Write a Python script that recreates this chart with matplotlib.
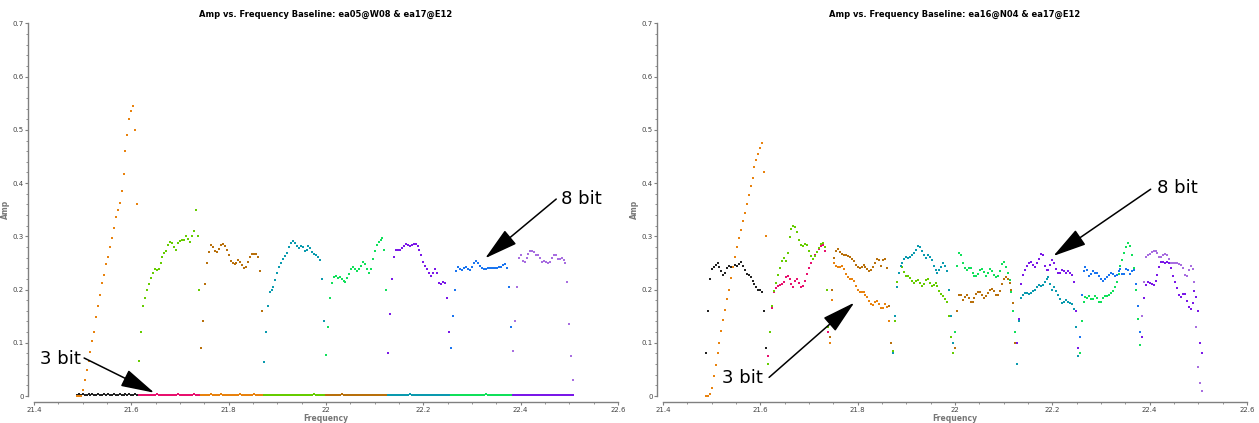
import numpy as np
import matplotlib
matplotlib.use('Agg')
import matplotlib.pyplot as plt
from matplotlib.ticker import MultipleLocator, FuncFormatter

# window start frequencies (GHz); 32 plotted channels per window, 4 MHz apart
spw_start = [21.486, 21.614, 21.742, 21.870, 21.998, 22.126, 22.254, 22.382]
chan_step = 0.004

colors_8bit = ['#e8820e', '#66cc00', '#b8700c', '#0a9aae', '#10e05a', '#7a18e8', '#1a75f0', '#a86ee0']
colors_3bit = ['#222222', '#e8106e', '#e8820e', '#66cc00', '#b8700c', '#0a9aae', '#10e05a', '#7a18e8']

# ---- baseline ea05@W08 & ea17@E12 ----
w08_8bit_0 = [0.0, 0.0, 0.0, 0.012, 0.03, 0.048, 0.065, 0.083, 0.104, 0.12, 0.148, 0.17, 0.19, 0.212, 0.228, 0.248,
              0.262, 0.28, 0.297, 0.316, 0.336, 0.35, 0.362, 0.385, 0.418, 0.46, 0.49, 0.52, 0.536, 0.544, 0.5, 0.36]
w08_8bit_1 = [0.065, 0.12, 0.17, 0.185, 0.2, 0.21, 0.222, 0.232, 0.238, 0.236, 0.238, 0.25, 0.261, 0.268, 0.273, 0.283,
              0.29, 0.288, 0.28, 0.274, 0.287, 0.292, 0.293, 0.294, 0.3, 0.295, 0.29, 0.3, 0.31, 0.35, 0.3, 0.2]
w08_8bit_2 = [0.09, 0.14, 0.21, 0.25, 0.27, 0.283, 0.28, 0.273, 0.27, 0.276, 0.283, 0.285, 0.282, 0.274, 0.264, 0.254,
              0.25, 0.248, 0.25, 0.256, 0.252, 0.246, 0.241, 0.243, 0.252, 0.262, 0.266, 0.266, 0.266, 0.262, 0.235, 0.16]
w08_8bit_3 = [0.063, 0.12, 0.17, 0.196, 0.2, 0.205, 0.218, 0.231, 0.242, 0.25, 0.257, 0.263, 0.269, 0.279, 0.288, 0.292,
              0.287, 0.281, 0.278, 0.281, 0.279, 0.272, 0.275, 0.281, 0.278, 0.27, 0.266, 0.264, 0.262, 0.256, 0.22, 0.14]
w08_8bit_4 = [0.077, 0.13, 0.185, 0.212, 0.224, 0.226, 0.222, 0.224, 0.22, 0.217, 0.215, 0.222, 0.229, 0.238, 0.243, 0.238,
              0.234, 0.238, 0.245, 0.251, 0.248, 0.238, 0.232, 0.238, 0.258, 0.272, 0.283, 0.289, 0.293, 0.296, 0.275, 0.2]
w08_8bit_5 = [0.08, 0.155, 0.22, 0.262, 0.275, 0.274, 0.275, 0.278, 0.281, 0.285, 0.283, 0.281, 0.283, 0.285, 0.285, 0.281,
              0.274, 0.264, 0.252, 0.245, 0.238, 0.231, 0.226, 0.231, 0.238, 0.232, 0.213, 0.21, 0.215, 0.213, 0.185, 0.12]
w08_8bit_6 = [0.09, 0.15, 0.2, 0.235, 0.243, 0.239, 0.236, 0.24, 0.243, 0.238, 0.237, 0.243, 0.25, 0.253, 0.25, 0.245,
              0.241, 0.239, 0.239, 0.24, 0.24, 0.241, 0.241, 0.241, 0.241, 0.242, 0.243, 0.246, 0.248, 0.24, 0.205, 0.13]
w08_8bit_7 = [0.085, 0.14, 0.205, 0.26, 0.265, 0.253, 0.252, 0.26, 0.266, 0.272, 0.273, 0.27, 0.264, 0.265, 0.259, 0.252,
              0.254, 0.251, 0.249, 0.252, 0.259, 0.264, 0.265, 0.258, 0.258, 0.259, 0.256, 0.25, 0.215, 0.135, 0.075, 0.03]

w08_3bit_0 = [0.002, 0.003, 0.002, 0.003, 0.002, 0.002, 0.004, 0.002, 0.003, 0.002, 0.002, 0.003, 0.002, 0.001, 0.003, 0.002,
              0.003, 0.002, 0.002, 0.003, 0.002, 0.001, 0.003, 0.002, 0.002, 0.003, 0.002, 0.003, 0.002, 0.002, 0.003, 0.002]
w08_3bit_1 = [0.001, 0.002, 0.001, 0.002, 0.002, 0.001, 0.002, 0.001, 0.002, 0.003, 0.001, 0.002, 0.001, 0.002, 0.002, 0.001,
              0.002, 0.001, 0.002, 0.002, 0.003, 0.001, 0.002, 0.001, 0.002, 0.002, 0.001, 0.002, 0.003, 0.001, 0.002, 0.001]
w08_3bit_2 = [0.002, 0.001, 0.002, 0.002, 0.001, 0.003, 0.002, 0.001, 0.002, 0.002, 0.004, 0.002, 0.001, 0.002, 0.002, 0.001,
              0.002, 0.002, 0.001, 0.002, 0.003, 0.001, 0.002, 0.002, 0.001, 0.002, 0.002, 0.003, 0.001, 0.002, 0.002, 0.001]
w08_3bit_3 = [0.001, 0.002, 0.001, 0.001, 0.002, 0.001, 0.002, 0.002, 0.001, 0.001, 0.002, 0.001, 0.002, 0.001, 0.001, 0.002,
              0.001, 0.002, 0.001, 0.002, 0.001, 0.001, 0.002, 0.001, 0.002, 0.001, 0.003, 0.001, 0.002, 0.001, 0.001, 0.002]
w08_3bit_4 = [0.002, 0.001, 0.002, 0.002, 0.001, 0.002, 0.001, 0.002, 0.003, 0.001, 0.002, 0.001, 0.002, 0.002, 0.001, 0.002,
              0.001, 0.002, 0.002, 0.001, 0.002, 0.001, 0.002, 0.001, 0.002, 0.002, 0.001, 0.002, 0.001, 0.002, 0.001, 0.002]
w08_3bit_5 = [0.001, 0.002, 0.001, 0.002, 0.001, 0.002, 0.001, 0.001, 0.002, 0.001, 0.002, 0.003, 0.001, 0.002, 0.001, 0.002,
              0.001, 0.002, 0.001, 0.001, 0.002, 0.001, 0.002, 0.001, 0.002, 0.001, 0.002, 0.001, 0.001, 0.002, 0.001, 0.002]
w08_3bit_6 = [0.002, 0.001, 0.002, 0.001, 0.002, 0.001, 0.002, 0.002, 0.001, 0.002, 0.001, 0.002, 0.001, 0.002, 0.002, 0.001,
              0.002, 0.001, 0.003, 0.001, 0.002, 0.001, 0.002, 0.001, 0.002, 0.002, 0.001, 0.002, 0.001, 0.002, 0.001, 0.002]
w08_3bit_7 = [0.001, 0.002, 0.001, 0.002, 0.002, 0.001, 0.002, 0.001, 0.002, 0.001, 0.002, 0.001, 0.002, 0.002, 0.001, 0.002,
              0.001, 0.002, 0.001, 0.002, 0.001, 0.002, 0.002, 0.001, 0.002, 0.001, 0.002, 0.001, 0.002, 0.001, 0.002, 0.001]

# ---- baseline ea16@N04 & ea17@E12 ----
n04_8bit_0 = [0.0, 0.0, 0.004, 0.015, 0.037, 0.058, 0.08, 0.1, 0.123, 0.143, 0.162, 0.182, 0.2, 0.221, 0.243, 0.262,
              0.28, 0.297, 0.312, 0.329, 0.343, 0.36, 0.378, 0.394, 0.41, 0.43, 0.444, 0.455, 0.466, 0.475, 0.42, 0.3]
n04_8bit_1 = [0.06, 0.12, 0.17, 0.198, 0.213, 0.227, 0.241, 0.254, 0.259, 0.253, 0.268, 0.299, 0.313, 0.32, 0.318, 0.308,
              0.294, 0.284, 0.282, 0.285, 0.283, 0.273, 0.263, 0.257, 0.263, 0.27, 0.278, 0.285, 0.288, 0.28, 0.2, 0.13]
n04_8bit_2 = [0.11, 0.2, 0.26, 0.273, 0.276, 0.27, 0.266, 0.265, 0.264, 0.263, 0.262, 0.258, 0.253, 0.247, 0.242, 0.24,
              0.243, 0.247, 0.243, 0.238, 0.234, 0.236, 0.242, 0.25, 0.258, 0.255, 0.244, 0.256, 0.258, 0.24, 0.17, 0.1]
n04_8bit_3 = [0.08, 0.15, 0.205, 0.232, 0.244, 0.25, 0.257, 0.261, 0.26, 0.261, 0.264, 0.268, 0.275, 0.282, 0.28, 0.273,
              0.265, 0.26, 0.265, 0.262, 0.255, 0.245, 0.237, 0.232, 0.236, 0.243, 0.249, 0.245, 0.234, 0.2, 0.15, 0.1]
n04_8bit_4 = [0.12, 0.245, 0.268, 0.265, 0.25, 0.24, 0.237, 0.241, 0.24, 0.232, 0.225, 0.225, 0.229, 0.236, 0.238, 0.233,
              0.226, 0.232, 0.238, 0.235, 0.228, 0.224, 0.226, 0.235, 0.248, 0.251, 0.243, 0.232, 0.218, 0.195, 0.16, 0.12]
n04_8bit_5 = [0.1, 0.145, 0.21, 0.228, 0.236, 0.244, 0.25, 0.252, 0.246, 0.242, 0.249, 0.258, 0.267, 0.265, 0.245, 0.236,
              0.236, 0.247, 0.255, 0.249, 0.239, 0.232, 0.232, 0.236, 0.234, 0.232, 0.234, 0.231, 0.228, 0.215, 0.16, 0.09]
n04_8bit_6 = [0.11, 0.19, 0.235, 0.242, 0.236, 0.225, 0.23, 0.234, 0.231, 0.231, 0.225, 0.219, 0.217, 0.219, 0.223, 0.227,
              0.231, 0.23, 0.226, 0.227, 0.235, 0.238, 0.23, 0.229, 0.239, 0.236, 0.229, 0.235, 0.236, 0.21, 0.17, 0.12]
n04_8bit_7 = [0.15, 0.215, 0.262, 0.265, 0.266, 0.27, 0.273, 0.272, 0.269, 0.262, 0.262, 0.264, 0.267, 0.264, 0.258, 0.25,
              0.249, 0.249, 0.249, 0.248, 0.247, 0.24, 0.227, 0.225, 0.236, 0.245, 0.238, 0.215, 0.13, 0.055, 0.025, 0.01]

n04_3bit_0 = [0.08, 0.16, 0.22, 0.238, 0.243, 0.247, 0.25, 0.242, 0.234, 0.227, 0.232, 0.241, 0.245, 0.243, 0.242, 0.246,
              0.244, 0.248, 0.252, 0.245, 0.236, 0.23, 0.228, 0.224, 0.216, 0.211, 0.204, 0.2, 0.2, 0.195, 0.16, 0.09]
n04_3bit_1 = [0.075, 0.12, 0.165, 0.195, 0.203, 0.207, 0.209, 0.21, 0.215, 0.223, 0.226, 0.219, 0.21, 0.205, 0.216, 0.22,
              0.213, 0.205, 0.207, 0.217, 0.23, 0.241, 0.25, 0.257, 0.264, 0.271, 0.277, 0.281, 0.284, 0.272, 0.2, 0.12]
n04_3bit_2 = [0.1, 0.18, 0.25, 0.244, 0.242, 0.242, 0.245, 0.238, 0.229, 0.223, 0.22, 0.22, 0.216, 0.207, 0.2, 0.195,
              0.196, 0.195, 0.19, 0.186, 0.178, 0.172, 0.171, 0.176, 0.179, 0.172, 0.165, 0.166, 0.172, 0.168, 0.14, 0.1]
n04_3bit_3 = [0.085, 0.14, 0.215, 0.232, 0.245, 0.243, 0.233, 0.226, 0.225, 0.222, 0.216, 0.212, 0.216, 0.218, 0.212, 0.206,
              0.21, 0.218, 0.22, 0.213, 0.206, 0.208, 0.212, 0.206, 0.198, 0.192, 0.188, 0.182, 0.177, 0.15, 0.11, 0.08]
n04_3bit_4 = [0.09, 0.16, 0.19, 0.19, 0.181, 0.186, 0.19, 0.185, 0.177, 0.176, 0.185, 0.192, 0.195, 0.195, 0.19, 0.184,
              0.187, 0.194, 0.199, 0.201, 0.197, 0.19, 0.19, 0.197, 0.21, 0.219, 0.224, 0.22, 0.213, 0.2, 0.175, 0.1]
n04_3bit_5 = [0.06, 0.14, 0.184, 0.189, 0.193, 0.194, 0.192, 0.194, 0.198, 0.2, 0.204, 0.208, 0.207, 0.209, 0.214, 0.219,
              0.223, 0.21, 0.2, 0.205, 0.198, 0.19, 0.182, 0.174, 0.176, 0.18, 0.177, 0.174, 0.173, 0.163, 0.13, 0.075]
n04_3bit_6 = [0.08, 0.14, 0.177, 0.186, 0.184, 0.187, 0.183, 0.182, 0.187, 0.185, 0.177, 0.177, 0.184, 0.187, 0.188, 0.189,
              0.193, 0.198, 0.204, 0.215, 0.23, 0.245, 0.255, 0.268, 0.28, 0.287, 0.281, 0.265, 0.24, 0.2, 0.145, 0.095]
n04_3bit_7 = [0.11, 0.185, 0.208, 0.214, 0.213, 0.21, 0.208, 0.216, 0.228, 0.243, 0.252, 0.252, 0.249, 0.251, 0.249, 0.24,
              0.226, 0.214, 0.203, 0.19, 0.186, 0.192, 0.191, 0.179, 0.167, 0.163, 0.174, 0.197, 0.186, 0.16, 0.1, 0.08]

left_8bit = [w08_8bit_0, w08_8bit_1, w08_8bit_2, w08_8bit_3, w08_8bit_4, w08_8bit_5, w08_8bit_6, w08_8bit_7]
left_3bit = [w08_3bit_0, w08_3bit_1, w08_3bit_2, w08_3bit_3, w08_3bit_4, w08_3bit_5, w08_3bit_6, w08_3bit_7]
right_8bit = [n04_8bit_0, n04_8bit_1, n04_8bit_2, n04_8bit_3, n04_8bit_4, n04_8bit_5, n04_8bit_6, n04_8bit_7]
right_3bit = [n04_3bit_0, n04_3bit_1, n04_3bit_2, n04_3bit_3, n04_3bit_4, n04_3bit_5, n04_3bit_6, n04_3bit_7]

gray = '#808080'


def label_arrow(ax, text, text_xy, tail, tip):
    ax.text(text_xy[0], text_xy[1], text, fontsize=13, ha='left', va='center')
    ax.annotate('', xy=tip, xytext=tail,
                arrowprops=dict(arrowstyle='-|>,head_length=0.6,head_width=0.16', mutation_scale=35,
                                lw=1.1, color='black', shrinkA=0, shrinkB=0))


def draw_panel(ax, title, amps_8bit, amps_3bit):
    for k in range(len(spw_start)):
        for amps, col in ((amps_3bit[k], colors_3bit[k]), (amps_8bit[k], colors_8bit[k])):
            freq = spw_start[k] + chan_step / 2 + chan_step * np.arange(len(amps))
            ax.plot(freq, amps, ls='none', marker='s', ms=1.9, mew=0, color=col, clip_on=False)

    ax.set_xlim(21.4, 22.6)
    ax.set_ylim(0, 0.7)
    ax.xaxis.set_major_locator(MultipleLocator(0.2))
    ax.xaxis.set_minor_locator(MultipleLocator(0.05))
    ax.yaxis.set_major_locator(MultipleLocator(0.1))
    ax.yaxis.set_minor_locator(MultipleLocator(0.02))
    fmt = FuncFormatter(lambda v, p: '%g' % round(v, 3))
    ax.xaxis.set_major_formatter(fmt)
    ax.yaxis.set_major_formatter(fmt)

    for side in ['top', 'right']:
        ax.spines[side].set_visible(False)
    for side in ['left', 'bottom']:
        ax.spines[side].set_position(('outward', 4))
        ax.spines[side].set_color(gray)
        ax.spines[side].set_linewidth(1)
    ax.tick_params(which='major', direction='out', length=2.3, width=0.8, color=gray,
                   labelsize=5, labelcolor='#444444')
    ax.tick_params(which='minor', direction='out', length=1.4, width=0.6, color=gray)
    ax.tick_params(axis='x', which='major', pad=1.8)
    ax.tick_params(axis='y', which='major', pad=1.2)

    ax.set_title(title, fontsize=6, fontweight='bold', pad=5)
    ax.set_xlabel('Frequency', fontsize=5.5, fontweight='bold', color='#777777', labelpad=0.5)
    ax.set_ylabel('Amp', fontsize=5.5, fontweight='bold', color='#777777', labelpad=1.5)


fig = plt.figure(figsize=(12.59, 4.23), dpi=100)
ax1 = fig.add_axes([0.027, 0.0638, 0.4639, 0.8809])
ax2 = fig.add_axes([0.5266, 0.0638, 0.4639, 0.8809])

draw_panel(ax1, 'Amp vs. Frequency Baseline: ea05@W08 & ea17@E12', left_8bit, left_3bit)
draw_panel(ax2, 'Amp vs. Frequency Baseline: ea16@N04 & ea17@E12', right_8bit, right_3bit)

label_arrow(ax1, '3 bit', (21.412, 0.0695), (21.503, 0.0714), (21.647, 0.0062))
label_arrow(ax1, '8 bit', (22.483, 0.370), (22.473, 0.370), (22.327, 0.2588))
label_arrow(ax2, '8 bit', (22.414, 0.391), (22.402, 0.3885), (22.202, 0.263))
label_arrow(ax2, '3 bit', (21.522, 0.034), (21.618, 0.035), (21.793, 0.1754))

fig.savefig('out.png', dpi=100)
